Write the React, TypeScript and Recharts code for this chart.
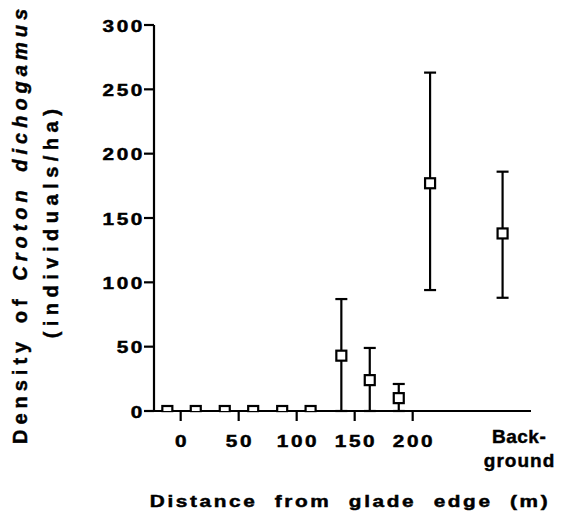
import React from 'react';
import { ScatterChart, Scatter, XAxis, YAxis, ErrorBar } from 'recharts';

// Distance from glade edge (m) of each sample point; the last one is the "Background" plot
const distances = [-11.5, 13, 38, 62.5, 87.5, 112, 138.5, 163, 188, 215, 277.5];
// Mean density of Croton dichogamus (individuals/ha)
const densities = [0, 0, 0, 0, 0, 0, 43, 24, 10, 177, 138];
// Upper and lower ends of the error bars
const upperBounds = [0, 0, 0, 0, 0, 0, 87, 49, 21, 263, 186];
const lowerBounds = [0, 0, 0, 0, 0, 0, 0, 0, 0, 94, 88];

const xTicks = [0, 50, 100, 150, 200];
const backgroundTick = 277.5;
const backgroundLabel = ['Back-', 'ground'];
const yTicks = [0, 50, 100, 150, 200, 250, 300];

const xTitle = 'Distance from glade edge (m)';
const yTitlePlain = 'Density of ';
const yTitleItalic = 'Croton dichogamus';
const yTitleUnits = '(individuals/ha)';

const FONT = "'Liberation Sans', Arial, Helvetica, sans-serif";
const INK = '#000';
const TEXT_STROKE = 0.45;

const XTick = (props: any) => {
  const { x, y, payload } = props;
  if (payload.value === backgroundTick) {
    return (
      <g fontFamily={FONT} fontWeight="bold" fontSize={19} fill={INK} stroke={INK} strokeWidth={TEXT_STROKE}>
        <text x={x + 16.5} y={y + 32} textAnchor="middle" style={{ letterSpacing: 0.5 }}>
          {backgroundLabel[0]}
        </text>
        <text x={x + 17} y={y + 56} textAnchor="middle" style={{ letterSpacing: 1 }}>
          {backgroundLabel[1]}
        </text>
      </g>
    );
  }
  return (
    <g>
      <line x1={x} y1={y} x2={x} y2={y + 10} stroke={INK} strokeWidth={2.2} />
      <text
        transform={`translate(${x + 1.3},${y + 36}) scale(1.3,1)`}
        textAnchor="middle"
        fontFamily={FONT}
        fontWeight="bold"
        fontSize={16}
        fill={INK}
        stroke={INK}
        strokeWidth={TEXT_STROKE}
        style={{ letterSpacing: 2 }}
      >
        {payload.value}
      </text>
    </g>
  );
};

const YTick = (props: any) => {
  const { x, y, payload } = props;
  return (
    <g>
      <line x1={x - 10} y1={y} x2={x} y2={y} stroke={INK} strokeWidth={2.2} />
      <text
        transform={`translate(${x - 9},${y + 6.5}) scale(1.3,1)`}
        textAnchor="end"
        fontFamily={FONT}
        fontWeight="bold"
        fontSize={16}
        fill={INK}
        stroke={INK}
        strokeWidth={TEXT_STROKE}
        style={{ letterSpacing: 2 }}
      >
        {payload.value}
      </text>
    </g>
  );
};

const SquareMarker = (props: any) => {
  const { cx, cy } = props;
  if (cx == null || cy == null) return null;
  return <rect x={cx - 5} y={cy - 5} width={10} height={10} fill="#fff" stroke={INK} strokeWidth={2.2} />;
};

export default function App() {
  const rows = distances.map((x, i) => ({
    x,
    y: densities[i],
    err: [densities[i] - lowerBounds[i], upperBounds[i] - densities[i]],
  }));

  return (
    <div style={{ position: 'absolute', left: 0, top: 0, width: 561, height: 523, background: '#fff' }}>
      <ScatterChart width={561} height={523} margin={{ top: 25, right: 30, bottom: 0, left: 0 }}>
        <XAxis
          type="number"
          dataKey="x"
          domain={[-23, 302]}
          ticks={[...xTicks, backgroundTick]}
          interval={0}
          height={112}
          allowDataOverflow
          axisLine={{ stroke: INK, strokeWidth: 2.2 }}
          tickLine={false}
          tickSize={0}
          tickMargin={0}
          tick={<XTick />}
        />
        <YAxis
          type="number"
          dataKey="y"
          domain={[0, 300]}
          ticks={yTicks}
          interval={0}
          width={154}
          allowDataOverflow
          axisLine={{ stroke: INK, strokeWidth: 2.2 }}
          tickLine={false}
          tickSize={0}
          tickMargin={0}
          tick={<YTick />}
        />
        <Scatter data={rows} shape={<SquareMarker />} isAnimationActive={false}>
          <ErrorBar dataKey="err" direction="y" width={6} stroke={INK} strokeWidth={2.2} isAnimationActive={false} />
        </Scatter>
      </ScatterChart>
      <svg
        width={561}
        height={523}
        style={{ position: 'absolute', left: 0, top: 0, pointerEvents: 'none' }}
      >
        <text
          transform="translate(350,507) scale(1.3,1)"
          textAnchor="middle"
          fontFamily={FONT}
          fontWeight="bold"
          fontSize={16}
          fill={INK}
          stroke={INK}
          strokeWidth={TEXT_STROKE}
          style={{ letterSpacing: 2, wordSpacing: 7 }}
        >
          {xTitle}
        </text>
        <text
          transform="translate(27,224) rotate(-90)"
          textAnchor="middle"
          fontFamily={FONT}
          fontWeight="bold"
          fontSize={20}
          fill={INK}
          stroke={INK}
          strokeWidth={TEXT_STROKE}
          style={{ letterSpacing: 5, wordSpacing: 3 }}
        >
          {yTitlePlain}
          <tspan fontStyle="italic">{yTitleItalic}</tspan>
        </text>
        <text
          transform="translate(58,221) rotate(-90)"
          textAnchor="middle"
          fontFamily={FONT}
          fontWeight="bold"
          fontSize={20}
          fill={INK}
          stroke={INK}
          strokeWidth={TEXT_STROKE}
          style={{ letterSpacing: 5.5 }}
        >
          {yTitleUnits}
        </text>
      </svg>
    </div>
  );
}
